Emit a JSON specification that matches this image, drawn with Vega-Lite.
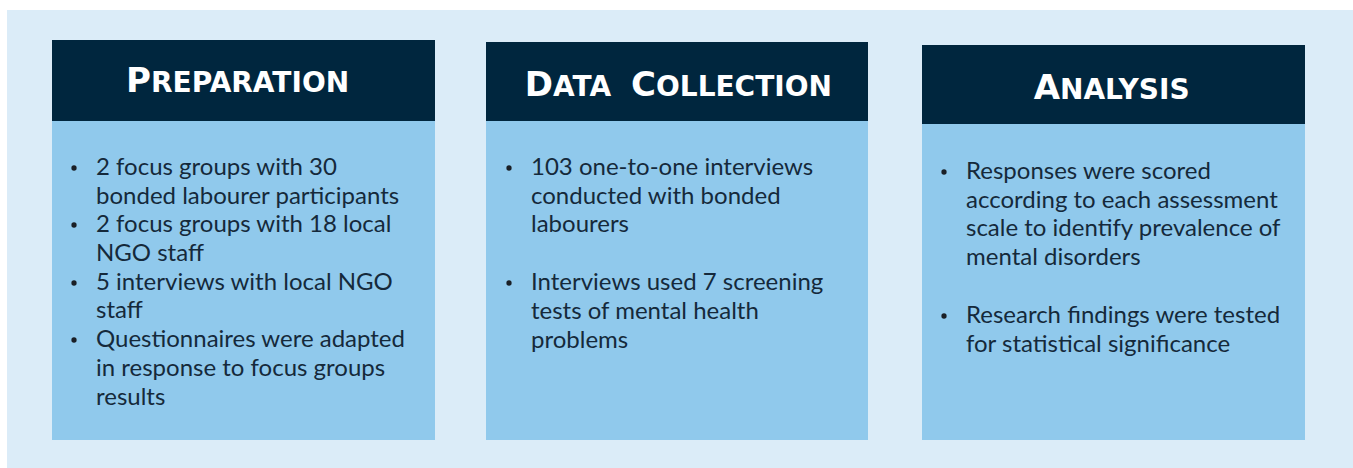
{
  "$schema": "https://vega.github.io/schema/vega-lite/v6.json",
  "width": 1353,
  "height": 468,
  "autosize": {"type": "none"},
  "padding": 0,
  "background": "white",
  "config": {"view": {"stroke": null}},
  "datasets": {
    "boxes": [
      {"kind": "bg", "x": 7, "x2": 1353, "y": 10, "y2": 468},
      {"kind": "header", "x": 52, "x2": 435, "y": 40, "y2": 121},
      {"kind": "body", "x": 52, "x2": 435, "y": 121, "y2": 440},
      {"kind": "header", "x": 486, "x2": 868, "y": 42, "y2": 121},
      {"kind": "body", "x": 486, "x2": 868, "y": 121, "y2": 440},
      {"kind": "header", "x": 922, "x2": 1305, "y": 45, "y2": 124},
      {"kind": "body", "x": 922, "x2": 1305, "y": 124, "y2": 440}
    ],
    "titles": [
      {"t": "P", "sz": "big", "x": 151, "y": 92},
      {"t": "REPARATION", "sz": "small", "x": 151, "y": 92},
      {"t": "D", "sz": "big", "x": 553, "y": 96},
      {"t": "ATA", "sz": "small", "x": 553, "y": 96},
      {"t": "C", "sz": "big", "x": 656, "y": 96},
      {"t": "OLLECTION", "sz": "small", "x": 656, "y": 96},
      {"t": "A", "sz": "big", "x": 1060, "y": 99},
      {"t": "NALYSIS", "sz": "small", "x": 1060, "y": 99}
    ],
    "lines": [
      {"t": "2 focus groups with 30", "x": 96, "y": 175},
      {"t": "bonded labourer participants", "x": 96, "y": 204},
      {"t": "2 focus groups with 18 local", "x": 96, "y": 232},
      {"t": "NGO staff", "x": 96, "y": 261},
      {"t": "5 interviews with local NGO", "x": 96, "y": 290},
      {"t": "staff", "x": 96, "y": 318},
      {"t": "Questionnaires were adapted", "x": 96, "y": 347},
      {"t": "in response to focus groups", "x": 96, "y": 376},
      {"t": "results", "x": 96, "y": 405},
      {"t": "103 one-to-one interviews", "x": 531, "y": 175},
      {"t": "conducted with bonded", "x": 531, "y": 204},
      {"t": "labourers", "x": 531, "y": 232},
      {"t": "Interviews used 7 screening", "x": 531, "y": 290},
      {"t": "tests of mental health", "x": 531, "y": 319},
      {"t": "problems", "x": 531, "y": 348},
      {"t": "Responses were scored", "x": 966, "y": 179},
      {"t": "according to each assessment", "x": 966, "y": 208},
      {"t": "scale to identify prevalence of", "x": 966, "y": 236},
      {"t": "mental disorders", "x": 966, "y": 265},
      {"t": "Research findings were tested", "x": 966, "y": 323},
      {"t": "for statistical significance", "x": 966, "y": 352}
    ],
    "bullets": [
      {"x": 74, "y": 168}, {"x": 74, "y": 225}, {"x": 74, "y": 283}, {"x": 74, "y": 340},
      {"x": 509, "y": 168}, {"x": 509, "y": 283},
      {"x": 944, "y": 172}, {"x": 944, "y": 316}
    ]
  },
  "layer": [
    {
      "data": {"name": "boxes"},
      "mark": {"type": "rect"},
      "encoding": {
        "x": {"field": "x", "type": "quantitative", "scale": {"domain": [0, 1353], "nice": false, "zero": false}, "axis": null},
        "x2": {"field": "x2"},
        "y": {"field": "y", "type": "quantitative", "scale": {"domain": [0, 468], "nice": false, "zero": false, "reverse": true}, "axis": null},
        "y2": {"field": "y2"},
        "color": {"field": "kind", "type": "nominal", "legend": null,
          "scale": {"domain": ["bg", "header", "body"], "range": ["#dbecf8", "#00263e", "#90c9ec"]}}
      }
    },
    {
      "data": {"name": "titles"},
      "transform": [{"filter": "datum.sz == 'big'"}],
      "mark": {"type": "text", "align": "right", "baseline": "alphabetic", "font": "DejaVu Sans", "fontWeight": "bold", "fontSize": 34, "color": "white"},
      "encoding": {
        "x": {"field": "x", "type": "quantitative"},
        "y": {"field": "y", "type": "quantitative"},
        "text": {"field": "t"}
      }
    },
    {
      "data": {"name": "titles"},
      "transform": [{"filter": "datum.sz == 'small'"}],
      "mark": {"type": "text", "align": "left", "baseline": "alphabetic", "font": "DejaVu Sans", "fontWeight": "bold", "fontSize": 28, "color": "white"},
      "encoding": {
        "x": {"field": "x", "type": "quantitative"},
        "y": {"field": "y", "type": "quantitative"},
        "text": {"field": "t"}
      }
    },
    {
      "data": {"name": "lines"},
      "mark": {"type": "text", "align": "left", "baseline": "alphabetic", "font": "Lato", "fontSize": 24, "color": "#15293b"},
      "encoding": {
        "x": {"field": "x", "type": "quantitative"},
        "y": {"field": "y", "type": "quantitative"},
        "text": {"field": "t"}
      }
    },
    {
      "data": {"name": "bullets"},
      "mark": {"type": "circle", "size": 28, "opacity": 1, "color": "#1a1f26"},
      "encoding": {
        "x": {"field": "x", "type": "quantitative"},
        "y": {"field": "y", "type": "quantitative"}
      }
    }
  ]
}
